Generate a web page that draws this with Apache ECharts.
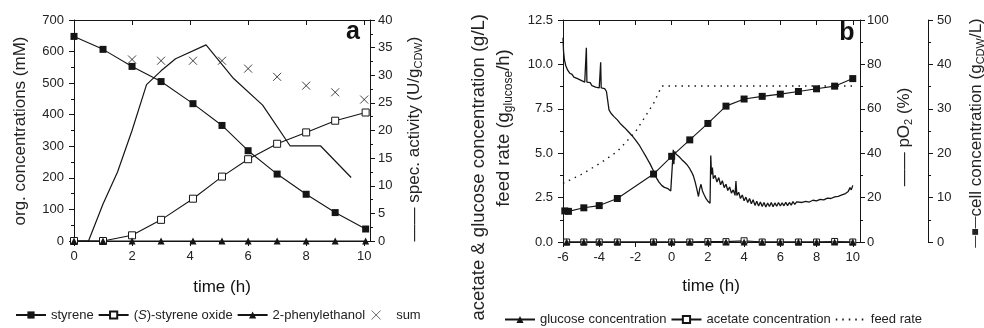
<!DOCTYPE html>
<html><head><meta charset="utf-8">
<script src="https://cdn.jsdelivr.net/npm/echarts@6/dist/echarts.min.js"></script>
<style>html,body{margin:0;padding:0;background:#fff}#c{width:984px;height:328px}</style>
</head><body><div id="c"></div>
<script>
// ---------- Panel a ----------
const timeA = [0, 1, 2, 3, 4.1, 5.1, 6, 7, 8, 9, 10.05];
const styrene = [648, 607, 553, 505, 435, 366, 286, 212, 148, 90, 38];
const styreneOxide = [0, 0, 18, 67, 134, 204, 259, 308, 344, 381, 407];
const phenylethanol = [0, 0, 0, 0, 0, 0, 0, 0, 0, 0, 0];
const timeSum = [2, 3, 4.1, 5.1, 6, 7, 8, 9, 10];
const sumConc = [575, 571, 571, 571, 546, 520, 492, 471, 448];
const timeAct = [0, 0.5, 1, 1.5, 2, 2.5, 3, 3.5, 4.55, 5.5, 6.5, 7.45, 8.5, 9.55];
const specActivity = [0, 0, 6.7, 12.5, 20, 28.3, 30.8, 33, 35.5, 29.4, 24.6, 17.2, 17.2, 11.5];
const ticksA = [0, 2, 4, 6, 8, 10];
const minorA = [1, 3, 5, 7, 9];

// ---------- Panel b ----------
const timeB = [-5.8, -4.85, -4, -3, -1, 0, 1, 2, 3, 4, 5, 6, 7, 8, 9, 10];
const glucose = [0, 0, 0, 0, 0, 0, 0, 0, 0, 0, 0, 0, 0, 0, 0, 0];
const acetate = [0, 0, 0, 0, 0, 0, 0, 0.02, 0.02, 0.07, 0, 0, 0, 0, 0.03, 0];
const timeCell = [-5.9, -5.7, -4.85, -4, -3, -1, 0, 1, 2, 3, 4, 5, 6, 7, 8, 9, 10];
const cellConc = [7.0, 6.9, 7.7, 8.2, 9.8, 15.3, 19.3, 23.0, 26.7, 30.6, 32.2, 32.8, 33.3, 33.9, 34.5, 35.1, 36.8];
const timeFeed = [-6, -5, -4, -3, -2, -1, -0.55, 10];
const feedRate = [3.3, 3.8, 4.4, 5.1, 6.2, 7.8, 8.78, 8.78];
const pO2Time = [-6.00,-5.97,-5.92,-5.85,-5.75,-5.62,-5.50,-5.40,-5.30,-5.20,-5.10,-5.00,-4.90,-4.80,-4.74,-4.71,-4.68,-4.60,-4.50,-4.40,-4.30,-4.20,-4.10,-4.00,-3.95,-3.92,-3.89,-3.80,-3.70,-3.60,-3.53,-3.50,-3.46,-3.35,-3.20,-3.00,-2.80,-2.60,-2.40,-2.20,-2.00,-1.80,-1.60,-1.40,-1.20,-1.00,-0.85,-0.70,-0.55,-0.40,-0.20,-0.05,0.05,0.09,0.12,0.16,0.25,0.40,0.55,0.70,0.85,1.00,1.10,1.20,1.30,1.40,1.48,1.55,1.62,1.70,1.78,1.90,2.00,2.12,2.16,2.20,2.25,2.30,2.40,2.50,2.60,2.70,2.80,2.90,3.00,3.10,3.20,3.30,3.40,3.50,3.55,3.60,3.70,3.80,3.90,4.00,4.10,4.20,4.30,4.40,4.50,4.60,4.70,4.80,4.90,5.00,5.10,5.20,5.30,5.40,5.50,5.60,5.70,5.80,5.90,6.00,6.10,6.20,6.30,6.40,6.50,6.60,6.70,6.80,6.90,7.00,7.20,7.40,7.60,7.80,8.00,8.20,8.40,8.60,8.80,9.00,9.20,9.40,9.60,9.75,9.85,9.92,10.00];
const pO2Value = [92,86,82,79.5,77.5,76,75.5,74.3,74.8,73.6,74.2,72.8,73.3,72.0,72.6,87.5,72.0,71.2,71.8,70.4,71.0,69.8,70.3,69.4,69.9,81.0,69.4,68.6,69.1,67.8,68.4,67.5,59.5,58.0,56.6,55.0,53.0,51.5,49.8,48.0,46.0,43.8,41.0,38.2,35.3,32.0,29.0,27.0,25.5,24.6,24.0,23.0,22.8,41.5,35.0,40.8,39.5,38.5,37.2,36.0,34.8,33.0,31.5,29.8,27.0,23.5,20.5,24.0,26.0,23.0,21.5,19.5,18.4,17.5,39.0,30.5,33.5,28.5,30.0,27.0,29.0,25.8,27.6,24.5,26.0,23.2,24.8,22.0,23.5,21.0,27.5,21.0,22.4,19.6,21.2,18.6,20.2,17.8,19.6,17.2,19.0,16.5,18.4,16.2,18.0,16.0,17.8,15.8,17.6,16.0,17.8,15.9,17.6,16.1,17.8,16.2,17.6,16.3,17.9,16.4,17.8,16.6,18.2,16.9,18.1,17.4,17.8,18.3,18.0,18.8,18.5,19.2,19.0,19.8,19.6,20.3,20.6,21.2,21.8,22.8,24.5,23.5,25.5];
const ticksB = [-6, -4, -2, 0, 2, 4, 6, 8, 10];
const minorB = [-5, -3, -1, 1, 3, 5, 7, 9];

const FF = '"Liberation Sans", Arial, Helvetica, "DejaVu Sans", sans-serif';
const INK = '#151515';
const pairs = (xs, ys) => xs.map((x, i) => [x, ys[i]]);

const axLine = {show: true, onZero: false, lineStyle: {color: INK, width: 1}};
const tickLS = {color: INK, width: 1};
const lab = {fontSize: 13, color: '#222', fontFamily: FF};

function xMain(g, min, max, ticks) {
  return {gridIndex: g, type: 'value', min, max, position: 'bottom',
    axisLine: axLine, splitLine: {show: false},
    axisTick: {show: true, length: 5, customValues: ticks, lineStyle: tickLS},
    axisLabel: Object.assign({customValues: ticks, margin: 9}, lab)};
}
function xMinor(g, min, max, ticks) {
  return {gridIndex: g, type: 'value', min, max, position: 'bottom',
    axisLine: {show: false}, splitLine: {show: false},
    axisTick: {show: true, length: 3, customValues: ticks, lineStyle: tickLS},
    axisLabel: {show: false}};
}
function xTop(g, min, max, ticks) {
  return {gridIndex: g, type: 'value', min, max, position: 'top',
    axisLine: axLine, splitLine: {show: false},
    axisTick: {show: true, inside: true, length: 5, customValues: ticks, lineStyle: tickLS},
    axisLabel: {show: false}};
}
function yAx(g, pos, min, max, interval, extra) {
  return Object.assign({gridIndex: g, type: 'value', position: pos, min, max, interval,
    axisLine: axLine, splitLine: {show: false},
    axisTick: {show: true, length: 5, lineStyle: tickLS},
    minorTick: {show: true, splitNumber: 2, length: 3, lineStyle: tickLS},
    axisLabel: Object.assign({margin: 9}, lab)}, extra || {});
}

const sq = 7;
const series = [
  {name: 'spec. activity', type: 'line', xAxisIndex: 0, yAxisIndex: 1, data: pairs(timeAct, specActivity),
   symbol: 'none', lineStyle: {color: INK, width: 1.2}, z: 2},
  {name: 'styrene', type: 'line', xAxisIndex: 0, yAxisIndex: 0, data: pairs(timeA, styrene),
   symbol: 'rect', symbolSize: sq, itemStyle: {color: INK}, lineStyle: {color: INK, width: 1.1}, z: 3},
  {name: '(S)-styrene oxide', type: 'line', xAxisIndex: 0, yAxisIndex: 0, data: pairs(timeA, styreneOxide),
   symbol: 'rect', symbolSize: sq, itemStyle: {color: '#fff', borderColor: INK, borderWidth: 1},
   lineStyle: {color: INK, width: 1.1}, z: 3},
  {name: '2-phenylethanol', type: 'line', xAxisIndex: 0, yAxisIndex: 0, data: pairs(timeA, phenylethanol),
   symbol: 'triangle', symbolSize: sq, itemStyle: {color: INK}, lineStyle: {color: INK, width: 1.1}, z: 3},
  {name: 'sum', type: 'scatter', xAxisIndex: 0, yAxisIndex: 0, data: pairs(timeSum, sumConc),
   symbol: 'path://M0,0L10,10M10,0L0,10', symbolSize: 8,
   itemStyle: {color: 'none', borderColor: INK, borderWidth: 1}, z: 3},

  {name: 'pO2', type: 'line', xAxisIndex: 3, yAxisIndex: 3, data: pairs(pO2Time, pO2Value),
   symbol: 'none', lineStyle: {color: INK, width: 1.3}, z: 2},
  {name: 'feed rate', type: 'line', xAxisIndex: 3, yAxisIndex: 2, data: pairs(timeFeed, feedRate),
   symbol: 'none', lineStyle: {color: INK, width: 1.4, type: [1.5, 5]}, itemStyle: {color: INK}, z: 2},
  {name: 'cell concentration', type: 'line', xAxisIndex: 3, yAxisIndex: 4, data: pairs(timeCell, cellConc),
   symbol: 'rect', symbolSize: sq, itemStyle: {color: INK}, lineStyle: {color: INK, width: 1.1}, z: 3},
  {name: 'acetate concentration', type: 'line', xAxisIndex: 3, yAxisIndex: 2, data: pairs(timeB, acetate),
   symbol: 'rect', symbolSize: 6, itemStyle: {color: '#fff', borderColor: INK, borderWidth: 1},
   lineStyle: {color: INK, width: 1.1}, z: 3},
  {name: 'glucose concentration', type: 'line', xAxisIndex: 3, yAxisIndex: 2, data: pairs(timeB, glucose),
   symbol: 'triangle', symbolSize: sq, itemStyle: {color: INK}, lineStyle: {color: INK, width: 1.1}, z: 4}
];

const nStyle = {fontSize: 17, fontFamily: FF, fill: '#222', lineHeight: 21};
const bStyle = {fontSize: 18.5, fontFamily: FF, fill: '#222', lineHeight: 22};
const sStyle = {fontSize: 11, fontFamily: FF, fill: '#222', lineHeight: 11, verticalAlign: 'bottom'};
const tStyle = {fontSize: 12, fontFamily: FF, fill: '#222', lineHeight: 12, verticalAlign: 'bottom'};
const dStyle = {fontSize: 12, fontFamily: FF, fill: '#222', lineHeight: 21};
function vText(x, y, text, align) {
  return {type: 'text', x, y, rotation: Math.PI / 2, silent: true,
    style: {text, rich: {n: nStyle, s: sStyle, d: dStyle, b: bStyle, t: tStyle}, fontSize: 17, fontFamily: FF, fill: '#222',
      align: align || 'center', verticalAlign: 'middle'}};
}
function hText(x, y, text, size, weight) {
  return {type: 'text', x, y, silent: true,
    style: {text, fontSize: size, fontWeight: weight || 'normal', fontFamily: FF, fill: '#111',
      align: 'center', verticalAlign: 'middle'}};
}

const legendText = {fontSize: 13, color: '#222', fontFamily: FF,
  rich: {it: {fontSize: 13, fontStyle: 'italic', color: '#222', fontFamily: FF}}};

const option = {
  animation: false,
  backgroundColor: '#fff',
  textStyle: {fontFamily: FF},
  grid: [
    {left: 74, right: 614, top: 20, bottom: 87},
    {left: 563, right: 124, top: 20, bottom: 86}
  ],
  xAxis: [
    xMain(0, 0, 10.2, ticksA), xMinor(0, 0, 10.2, minorA), xTop(0, 0, 10.2, ticksA),
    xMain(1, -6, 10.4, ticksB), xMinor(1, -6, 10.4, minorB), xTop(1, -6, 10.4, ticksB)
  ],
  yAxis: [
    yAx(0, 'left', 0, 700, 100, {axisLabel: Object.assign({margin: 10}, lab)}),
    yAx(0, 'right', 0, 40, 5, {axisLabel: Object.assign({margin: 8}, lab)}),
    yAx(1, 'left', 0, 12.5, 2.5, {axisLabel: Object.assign({margin: 10, formatter: v => v.toFixed(1)}, lab)}),
    yAx(1, 'right', 0, 100, 20, {axisLabel: Object.assign({margin: 7}, lab)}),
    yAx(1, 'right', 0, 50, 10, {offset: 68, axisLabel: Object.assign({margin: 9}, lab)})
  ],
  legend: [
    {data: ['styrene', '(S)-styrene oxide', '2-phenylethanol', {name: 'sum', itemStyle: {borderWidth: 0.8}}],
     left: 15, top: 308, itemWidth: 30, itemHeight: 9, itemGap: 4, padding: 0,
     textStyle: legendText,
     formatter: n => n === '(S)-styrene oxide' ? '({it|S})-styrene oxide' : n},
    {data: ['glucose concentration', 'acetate concentration', {name: 'feed rate', itemStyle: {opacity: 0}}],
     left: 504, top: 313, itemWidth: 30, itemHeight: 9, itemGap: 4, padding: 0,
     textStyle: legendText}
  ],
  graphic: [
    vText(20, 131, '{n|org. concentrations (mM)}'),
    vText(414, 139, '{n|—— spec. activity (U/g}{s|CDW}{n|)}'),
    hText(222, 287, 'time (h)', 17),
    hText(353, 32, 'a', 25, 'bold'),
    vText(479, 14, '{b|acetate & glucose concentration (g/L)}', 'right'),
    vText(504, 128, '{b|feed rate (g}{t|glucose}{b|/h)}'),
    vText(904, 137, '{n|—— pO}{s|2}{n| (%)}'),
    vText(976, 133, '{d|—■—}{n|cell concentration (g}{s|CDW}{n|/L)}'),
    hText(711, 286, 'time (h)', 17),
    hText(847, 33, 'b', 25, 'bold')
  ],
  series
};

const chart = echarts.init(document.getElementById('c'), null, {renderer: 'canvas'});
chart.setOption(option);
</script>
</body></html>
